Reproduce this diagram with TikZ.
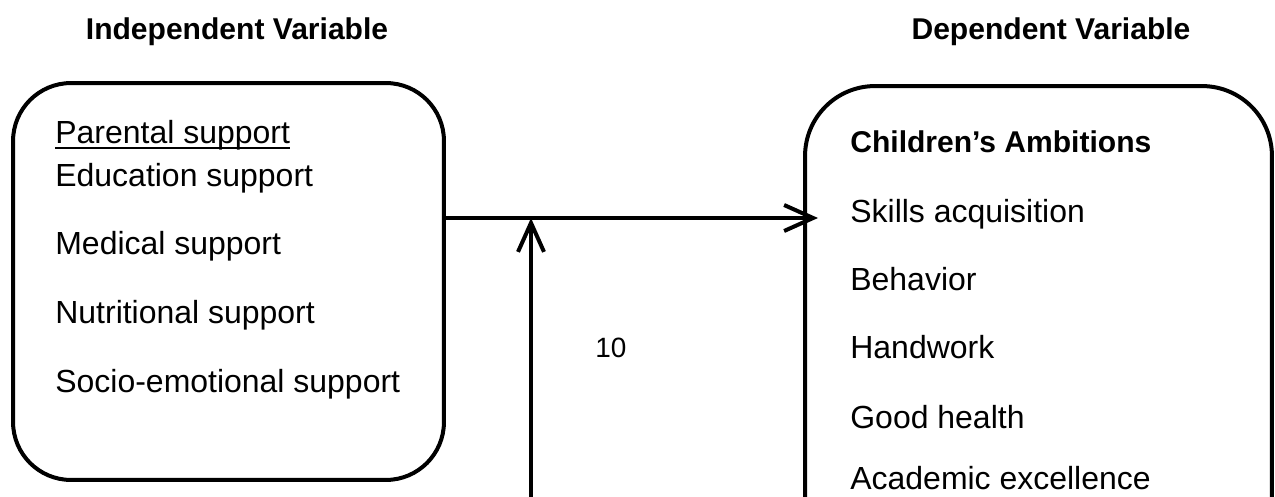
\documentclass[tikz,border=0pt]{standalone}
\usepackage{fontspec}
\setmainfont{Liberation Sans}
\usetikzlibrary{arrows.meta, positioning}
\tikzset{
	varbox/.style={
		rectangle,
		draw=black,
		line width=0.08cm,
		inner sep=0pt
	},
	item/.style={
		anchor=base west,
		inner sep=0pt,
		font=\fontsize{18.2}{22}\selectfont
	},
	heading/.style={
		anchor=base,
		inner sep=0pt,
		font=\fontsize{17.1}{21}\selectfont\bfseries
	},
	arrow/.style={line width=0.08cm, -{Straight Barb[length=5.8mm, width=5.2mm]}}
}

\begin{document}
\begin{tikzpicture}[x=0.02cm, y=-0.02cm]
	\clip (0,0) rectangle (1275,497);
	
	% headings
	\node (indep) [heading] at (237,39) {Independent Variable};
	\node (dep) [heading] at (1051,39) {Dependent Variable};
	
	% boxes
	\node (ivbox) [varbox, rounded corners=1.16cm, minimum width=8.62cm, minimum height=7.94cm] at (228.5,281.5) {};
	\node (dvbox) [varbox, rounded corners=1.4cm, minimum width=9.34cm, minimum height=9.6cm] at (1038.5,326) {};
	
	% independent variable items
	\node (parental) [item] at (55,143) {Parental support};
	\draw [line width=0.04cm] ([yshift=-0.1cm]parental.base west) -- ([yshift=-0.1cm]parental.base east);
	\node (edu) [item] at (55,186) {Education support};
	\node (med) [item] at (55,254) {Medical support};
	\node (nutri) [item] at (55,323) {Nutritional support};
	\node (socio) [item] at (55,392) {Socio-emotional support};
	
	% dependent variable items
	\node (ambitions) [item, font=\fontsize{17.1}{21}\selectfont\bfseries] at (850,152) {Children’s Ambitions};
	\node (skills) [item] at (850,222) {Skills acquisition};
	\node (behav) [item] at (850,290) {Behavior};
	\node (handwork) [item] at (850,358) {Handwork};
	\node (health) [item] at (850,428) {Good health};
	\node (academic) [item] at (850,489) {Academic excellence};
	
	\node (num) [item, font=\fontsize{15.9}{19}\selectfont] at (595,357) {10};
	
	% connectors
	\coordinate (hit) at (818,218);
	\coordinate (mod) at (531,540);
	\draw [arrow] (ivbox.east |- hit) -- (hit);
	\draw [arrow] (mod) -- (mod |- hit);
\end{tikzpicture}
\end{document}
